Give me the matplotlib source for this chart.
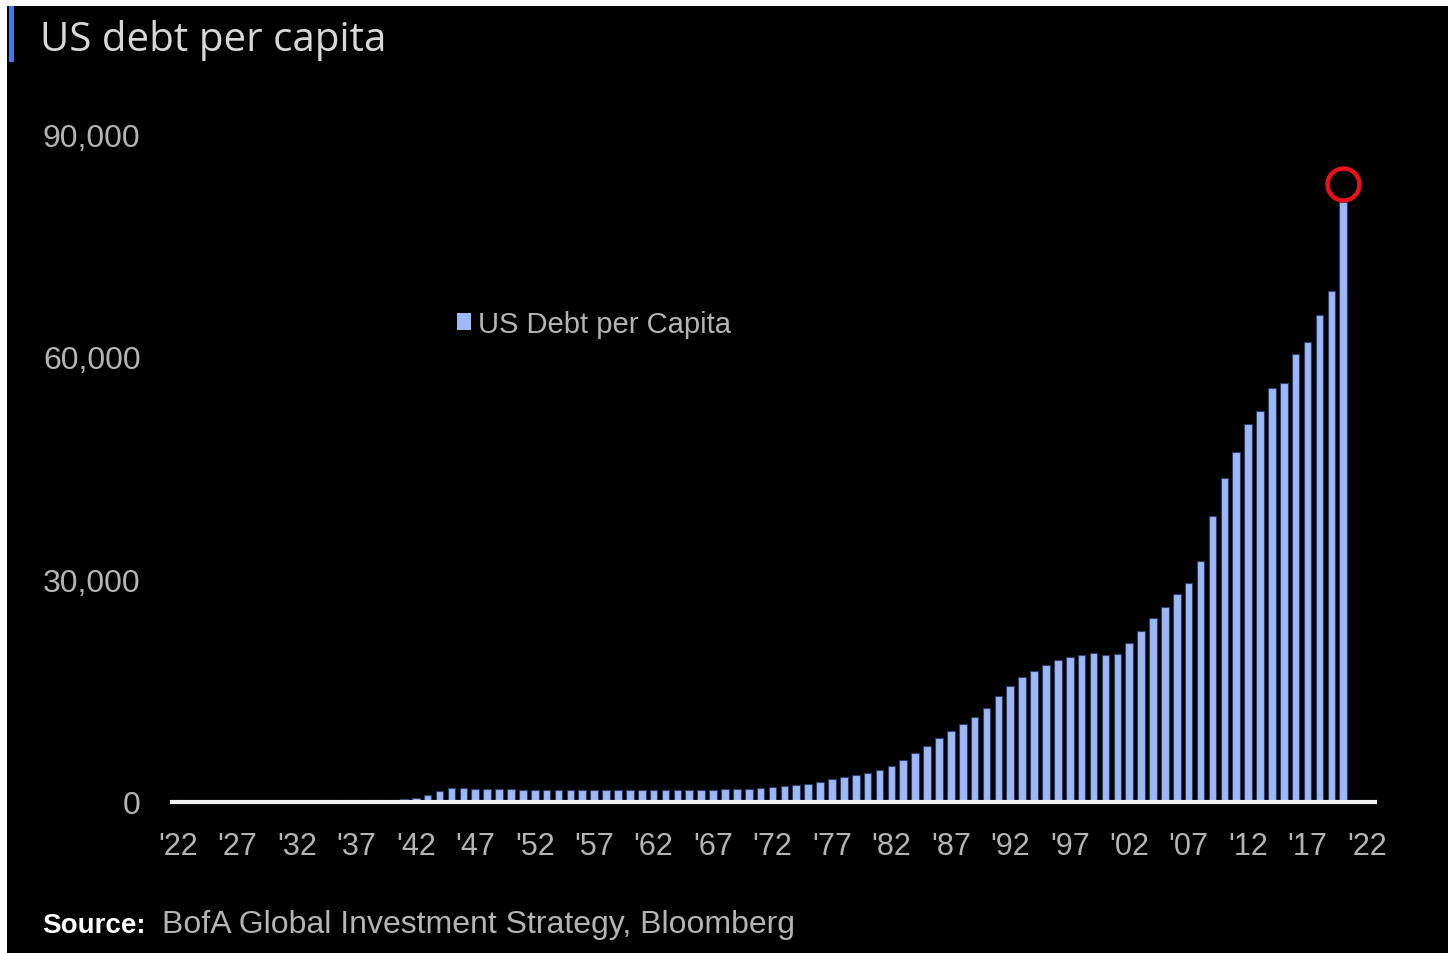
import numpy as np
import matplotlib
matplotlib.use('Agg')
import matplotlib.pyplot as plt
import matplotlib.transforms as mtransforms
from matplotlib import font_manager
from matplotlib.patches import Rectangle

# data: US federal debt per capita (USD)
years = list(range(1922, 2021))
debt = [
    210, 200, 190, 180, 170, 155, 145, 140,                      # 1922-1929
    130, 135, 155, 180, 215, 225, 260, 285, 285, 310,            # 1930s
    325, 370, 530, 1000, 1450, 1850, 1900, 1790, 1720, 1690,     # 1940s
    1700, 1650, 1650, 1660, 1680, 1660, 1620, 1580, 1590, 1610,  # 1950s
    1600, 1580, 1600, 1620, 1630, 1630, 1640, 1650, 1730, 1740,  # 1960s
    1810, 1910, 2050, 2180, 2250, 2400, 2700, 3050, 3400, 3600,  # 1970s
    3900, 4250, 4800, 5700, 6550, 7500, 8650, 9500, 10450, 11400,        # 1980s
    12700, 14300, 15650, 16800, 17700, 18400, 19150, 19600, 19800, 20050,  # 1990s
    19800, 20000, 21400, 23100, 24800, 26300, 28000, 29450, 32450, 38600,  # 2000s
    43600, 47100, 50900, 52700, 55800, 56400, 60350, 62000, 65600, 68900,  # 2010s
    80900,                                                        # 2020
]
tick_years = list(range(1922, 2023, 5))
tick_labels = ["'" + str(y)[2:] for y in tick_years]
y_ticks = [0, 30000, 60000, 90000]

title = 'US debt per capita'
series_name = 'US Debt per Capita'
source_bold = 'Source:'
source_text = 'BofA Global Investment Strategy, Bloomberg'

names = {f.name for f in font_manager.fontManager.ttflist}
narrow = 'Liberation Sans Narrow' if 'Liberation Sans Narrow' in names else 'Liberation Sans'
title_font = 'Open Sans' if 'Open Sans' in names else 'DejaVu Sans'

bar_color = '#9db8f4'
grey = '#b4b4b4'

W, H = 1448, 954
fig = plt.figure(figsize=(W / 100, H / 100), dpi=100)
fig.patch.set_facecolor('black')
# thin white border on left / top, blue accent bar next to title
fig.patches.append(Rectangle((0, 0), 7 / W, 1, transform=fig.transFigure,
                             facecolor='white', edgecolor='none'))
fig.patches.append(Rectangle((0, 1 - 7 / H), 1, 7 / H, transform=fig.transFigure,
                             facecolor='white', edgecolor='none'))
fig.patches.append(Rectangle((9 / W, 1 - 63 / H), 5 / W, 56 / H, transform=fig.transFigure,
                             facecolor='#3d7be0', edgecolor='none'))

ax = fig.add_axes([160 / W, (H - 803) / H, (1400 - 160) / W, (803 - 100) / H])
ax.set_facecolor('none')

ax.bar(years, debt, width=0.64, color=bar_color, edgecolor='#2b3f73', linewidth=0.8,
       label=series_name, zorder=2)

# red circle above latest bar
off = mtransforms.offset_copy(ax.transData, fig=fig, x=0, y=17.7, units='dots')
ax.plot(years[-1], debt[-1], marker='o', ms=23, mfc='none', mec='#e8101a', mew=3.2,
        transform=off, zorder=4, clip_on=False)

px_per_year = 11.89
ax.set_xlim(1922 - 18 / px_per_year, 1922 + (1400 - 178) / px_per_year)
ax.set_ylim(0, 703 / 7.422 * 1000)

for s in ['top', 'right', 'left']:
    ax.spines[s].set_visible(False)
ax.spines['bottom'].set_color('#f2f2f2')
ax.spines['bottom'].set_linewidth(3)
ax.spines['bottom'].set_bounds(years[0] - 0.5, tick_years[-1] + 0.7)
ax.spines['bottom'].set_zorder(3)

ax.set_xticks(tick_years)
ax.set_xticklabels(tick_labels, fontfamily=narrow, fontsize=22, color=grey)
ax.set_yticks(y_ticks)
ax.set_yticklabels([f'{v:,}' for v in y_ticks], fontfamily=narrow, fontsize=23, color=grey)
ax.tick_params(axis='x', length=0, pad=21)
ax.tick_params(axis='y', length=0, pad=14)

leg = ax.legend(loc='center left', bbox_to_anchor=(442 / W, 1 - 325 / H),
                bbox_transform=fig.transFigure, frameon=False, borderpad=0,
                handlelength=0.5, handleheight=0.5, handletextpad=0.25,
                prop={'family': narrow, 'size': 21})
for t in leg.get_texts():
    t.set_color(grey)
for h in leg.legend_handles:
    h.set_edgecolor('none')

fig.text(40 / W, 1 - 51 / H, title, fontfamily=title_font, fontsize=29,
         color='#d8d8d8', va='baseline', ha='left')
fig.text(42 / W, 1 - 933 / H, source_bold, fontfamily=narrow, fontweight='bold',
         fontsize=20, color='white', va='baseline', ha='left')
fig.text(162 / W, 1 - 933 / H, source_text, fontfamily=narrow, fontsize=23,
         color=grey, va='baseline', ha='left')

fig.savefig('out.png', dpi=100, facecolor=fig.get_facecolor())
